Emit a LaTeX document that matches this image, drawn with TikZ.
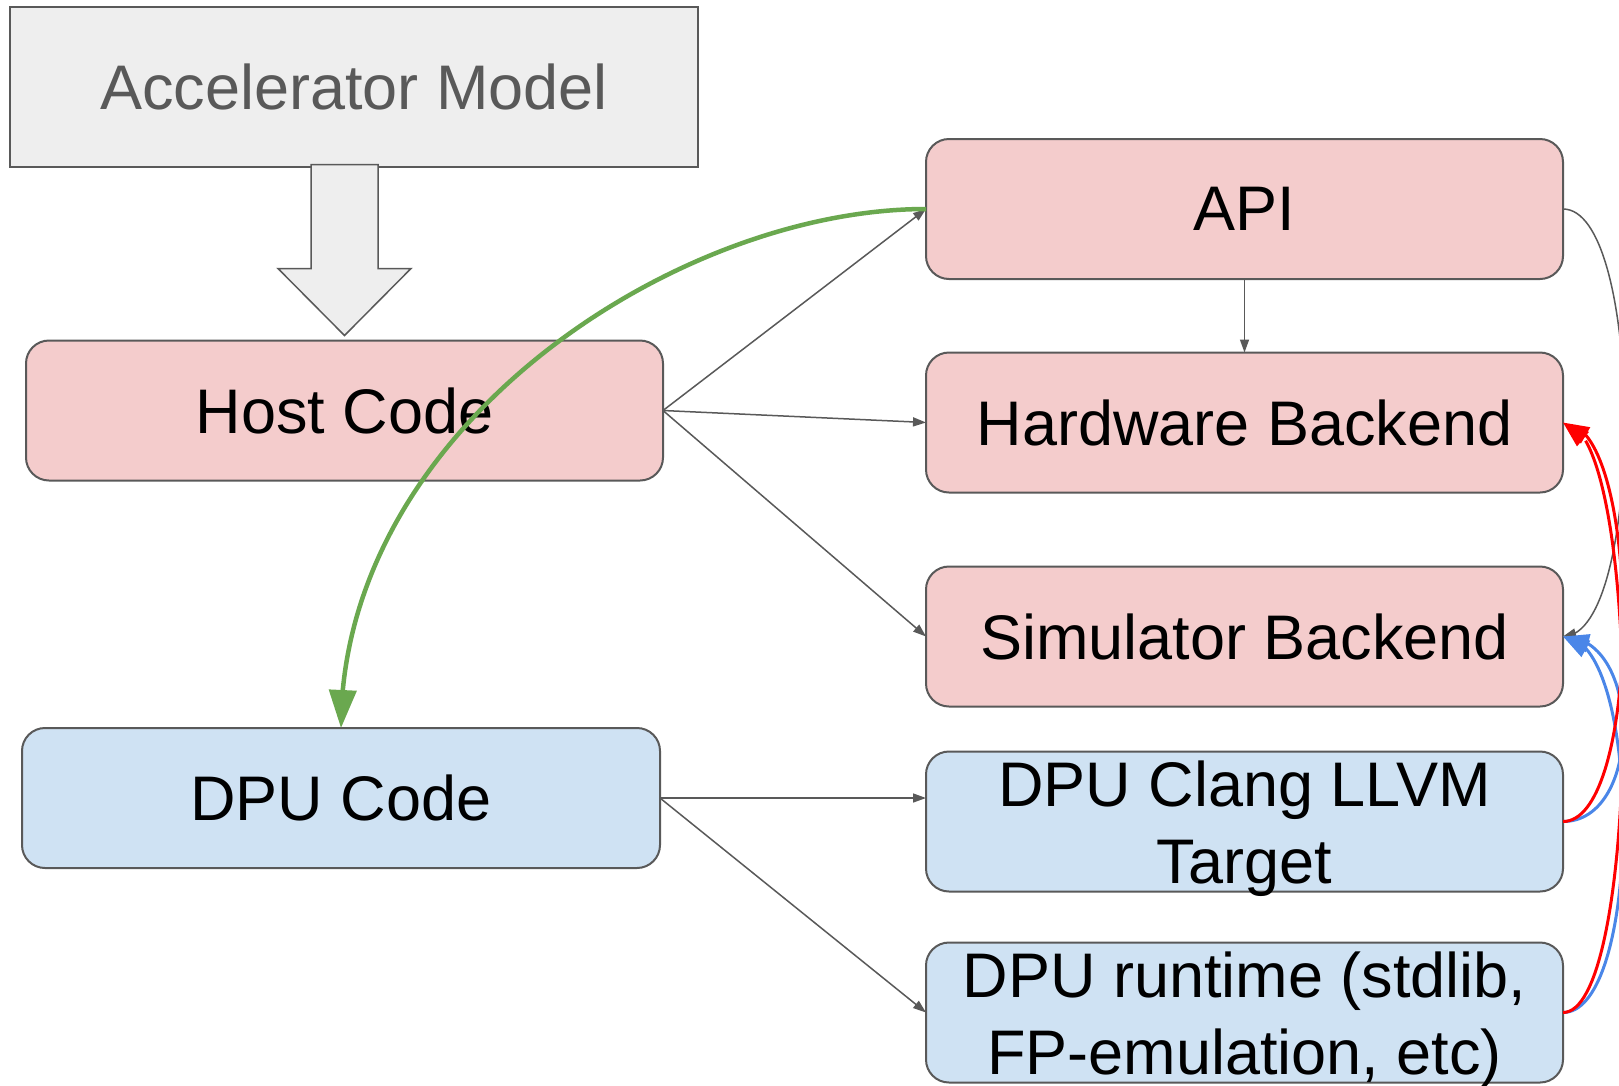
\documentclass[tikz,border=0pt]{standalone}
\usepackage{fontspec}
\setmainfont{Liberation Sans}
\usetikzlibrary{arrows.meta,bending,calc}
\definecolor{edge}{HTML}{595959}
\definecolor{hostfill}{HTML}{F4CCCC}
\definecolor{dpufill}{HTML}{CFE2F3}
\definecolor{modelfill}{HTML}{EEEEEE}
\definecolor{greenline}{HTML}{6AA84F}
\definecolor{redline}{HTML}{FF0000}
\definecolor{blueline}{HTML}{4A86E8}
% fixed first-line height for two-line labels
\newcommand{\toplinestrut}{\rule{0pt}{47pt}}

\begin{document}
\begin{tikzpicture}[x=1pt,y=-1pt,
  box/.style={draw=edge, line width=2pt, rounded corners=23pt,
    minimum width=637pt, minimum height=140pt, inner sep=0pt, outer sep=0pt,
    align=center, font=\fontsize{63}{77}\selectfont},
  hostbox/.style={box, fill=hostfill},
  dpubox/.style={box, fill=dpufill},
  modelbox/.style={draw=edge, line width=2pt, fill=modelfill, text=edge,
    minimum width=688pt, minimum height=160pt, inner sep=0pt, outer sep=0pt,
    font=\fontsize{63}{75}\selectfont},
  blockarrow/.style={draw=edge, line width=1.5pt, fill=modelfill, line join=miter},
  link/.style={draw=edge, line width=1.5pt, -{Triangle[length=13pt,width=9pt]}},
  curvelink/.style={draw=edge, line width=1.5pt, -{Triangle[length=13pt,width=9pt,flex]}},
  greenarrow/.style={draw=greenline, line width=4.5pt, -{Triangle[length=38pt,width=27pt,flex]}},
  redarrow/.style={draw=redline, line width=3pt, -{Triangle[length=26pt,width=18pt,flex]}},
  bluearrow/.style={draw=blueline, line width=3pt, -{Triangle[length=26pt,width=18pt,flex]}},
]
\clip (0,0) rectangle (1619,1085);
\fill[white] (0,0) rectangle (1619,1085);

% model and host-side boxes
\node[modelbox] (model) at (354,87) {Accelerator Model};
\node[hostbox] (host) at (344.5,410.5) {Host Code};
\node[dpubox, minimum width=638pt] (dpu) at (341,798) {DPU Code};

% back-end column
\node[hostbox] (api) at (1244.5,209) {API};
\node[hostbox] (hw) at (1244.5,422.5) {Hardware Backend};
\node[hostbox] (sim) at (1244.5,636.5) {Simulator Backend};
\node[dpubox] (clang) at (1244.5,821.5) {\toplinestrut DPU Clang LLVM\\\smash{Target}};
\node[dpubox] (rt) at (1244.5,1012.5) {\toplinestrut DPU runtime (stdlib,\\\smash{FP-emulation, etc)}};

% wide block arrow from the model down to the host code
\coordinate (tipA) at ($(host.north)+(0,-5)$);
\draw[blockarrow] ($(tipA)+(-33.5,-171)$) -- ($(tipA)+(-33.5,-67)$)
  -- ($(tipA)+(-66.5,-67)$) -- (tipA) -- ($(tipA)+(66.5,-67)$)
  -- ($(tipA)+(33.5,-67)$) -- ($(tipA)+(33.5,-171)$) -- cycle;

% straight connectors
\draw[link] (host.east) -- (api.west);
\draw[link] (host.east) -- (hw.west);
\draw[link] (host.east) -- (sim.west);
\draw[link] (api.south) -- (hw.north);
\draw[link] (dpu.east) -- (clang.west |- dpu.east);
\draw[link] (dpu.east) -- (rt.west);

% curved connectors on the right
\draw[curvelink] (api.east) .. controls +(82,0) and +(82,0) .. (sim.east);
\draw[bluearrow] (clang.east) .. controls +(80,0) and +(80,0) .. (sim.east);
\draw[bluearrow] (rt.east) .. controls +(80,0) and +(80,0) .. (sim.east);
\draw[redarrow] (clang.east) .. controls +(80,0) and +(80,0) .. (hw.east);
\draw[redarrow] (rt.east) .. controls +(80,0) and +(80,0) .. (hw.east);

% API to DPU code
\draw[greenarrow] (api.west) .. controls +(-250,0) and +(0,-300) .. (dpu.north);
\end{tikzpicture}
\end{document}
